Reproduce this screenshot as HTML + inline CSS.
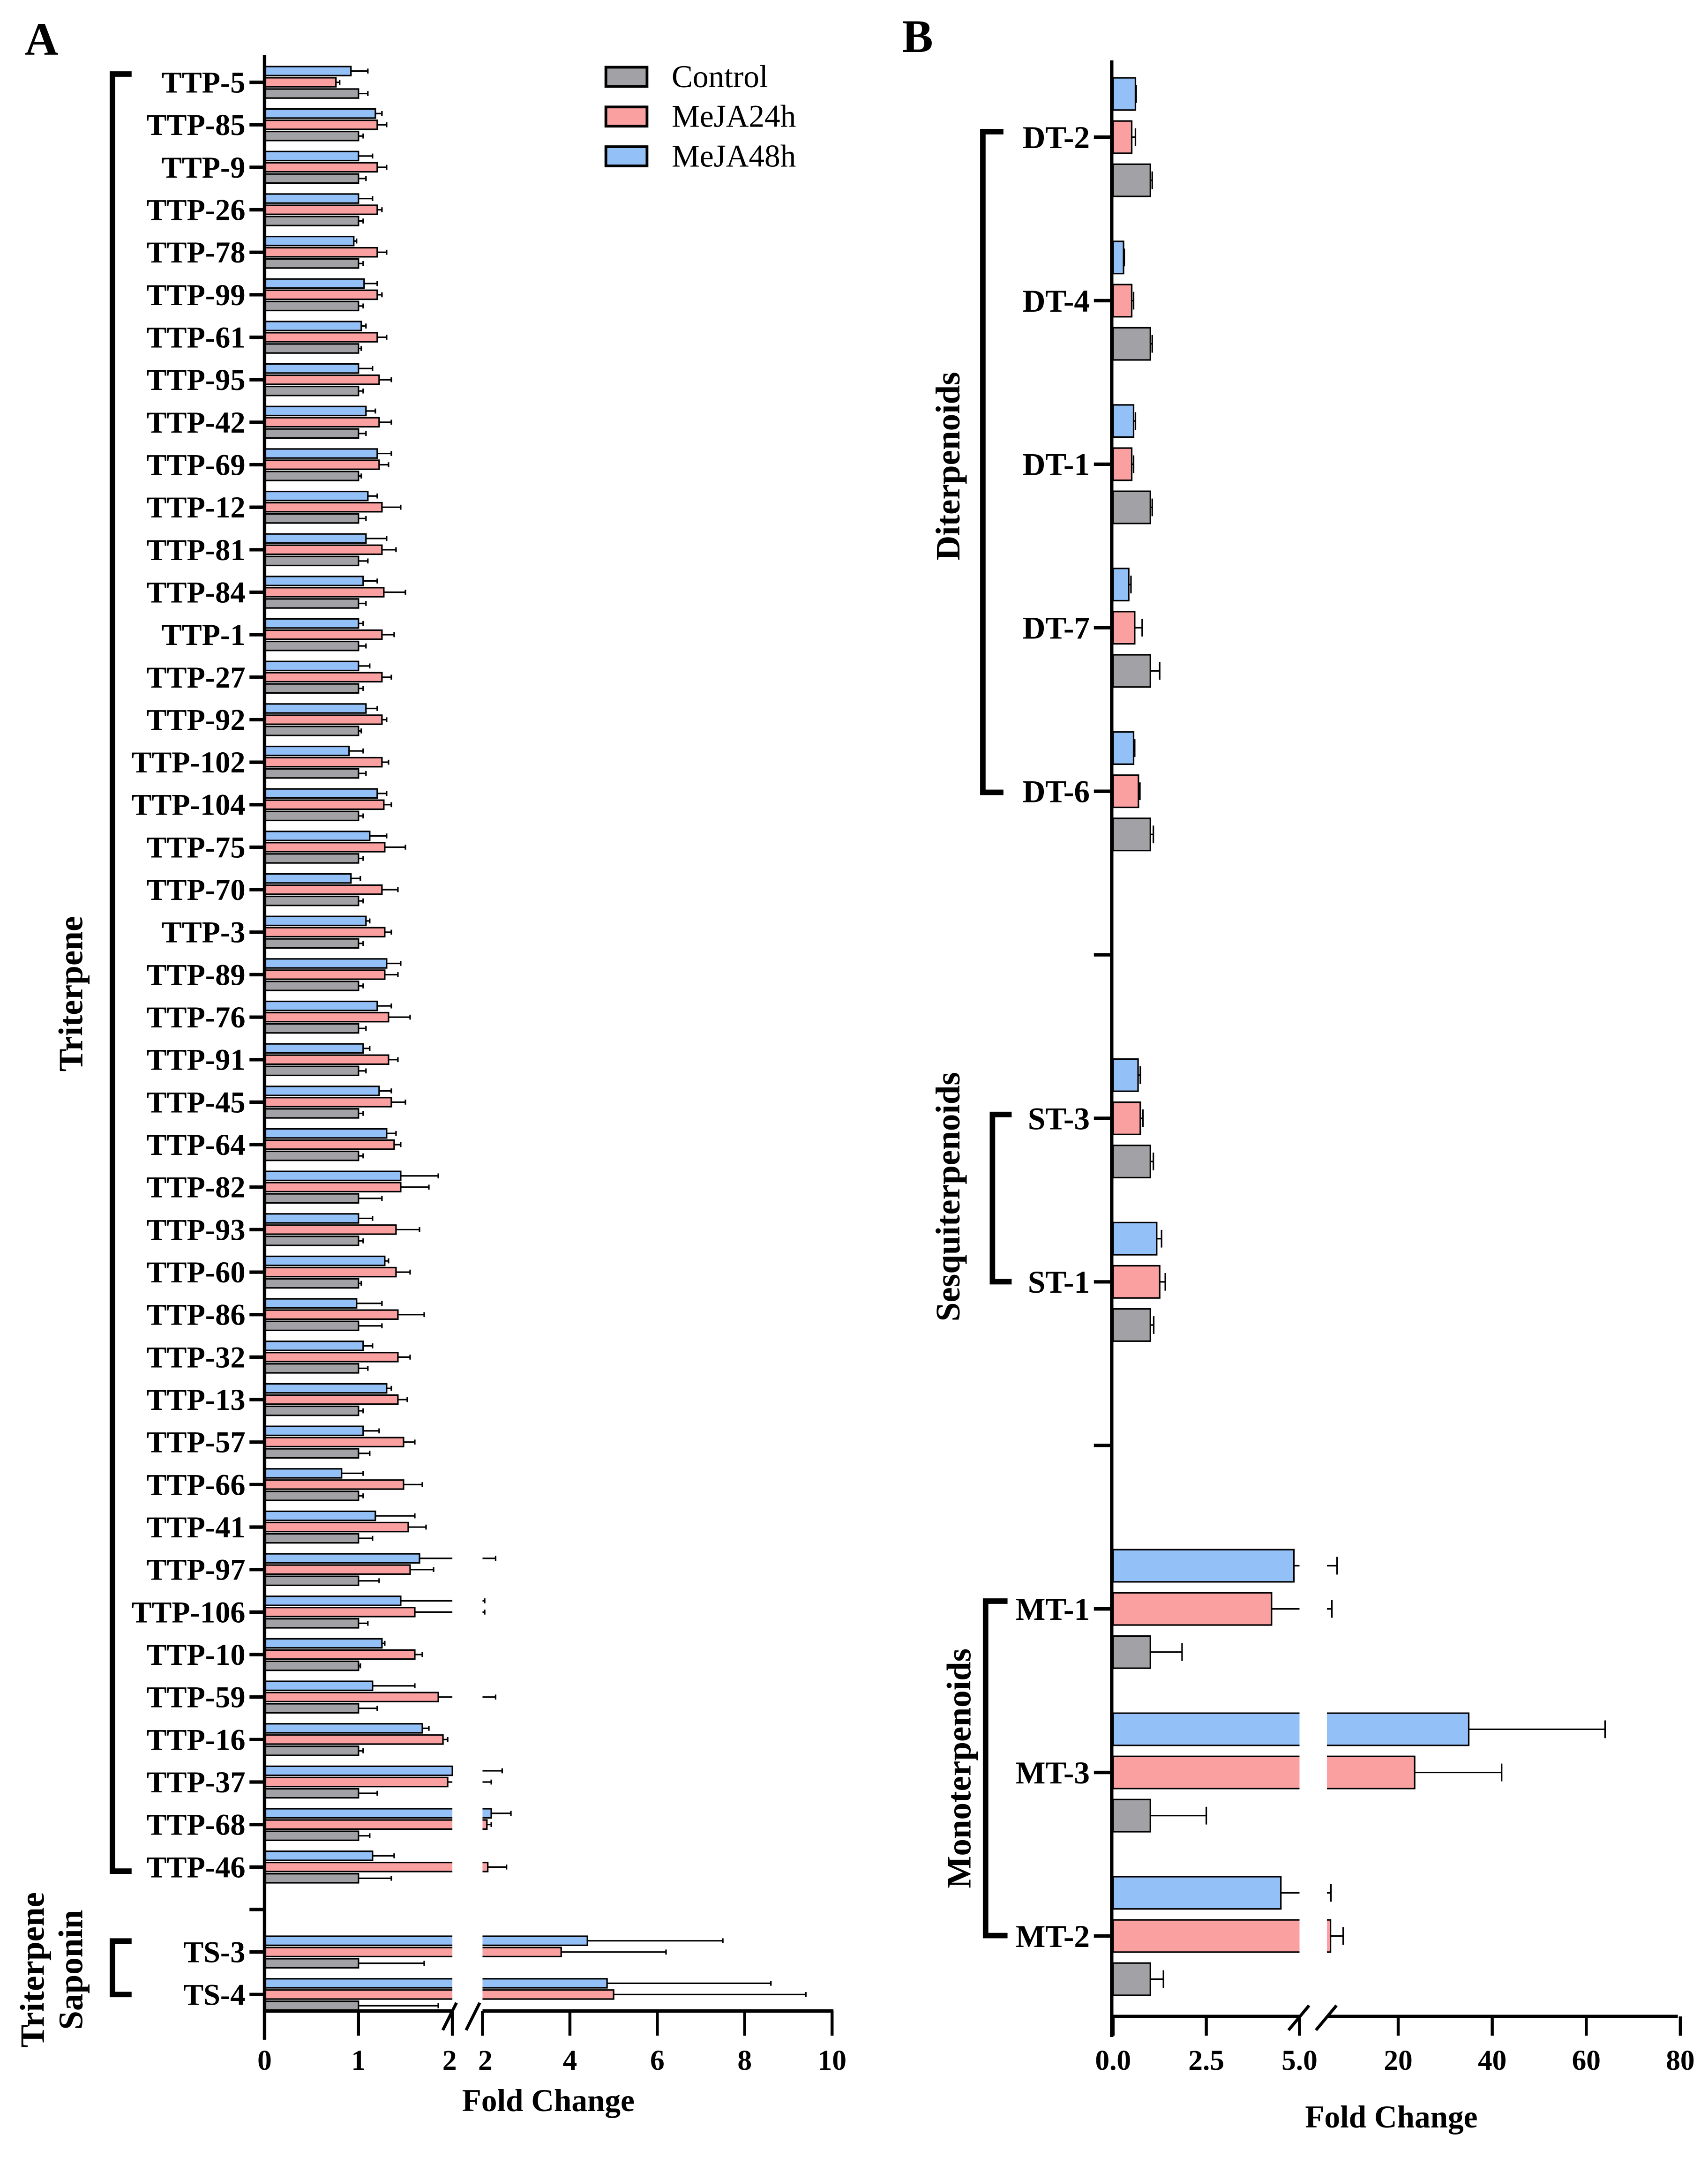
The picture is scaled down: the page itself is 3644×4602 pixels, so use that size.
<!DOCTYPE html>
<html><head><meta charset="utf-8"><style>
html,body{margin:0;padding:0;background:#fff}
svg{display:block}
text{font-family:"Liberation Serif",serif;fill:#000}
.b{font-weight:bold}
</style></head><body>
<svg id="chart" width="3644" height="4602" viewBox="0 0 1246 1573.5" xmlns="http://www.w3.org/2000/svg">
<g id="gA"></g>
<g id="gB"></g>
</svg>
<script>
// ---------- Panel A data ----------
const catsA = ["TTP-5","TTP-85","TTP-9","TTP-26","TTP-78","TTP-99","TTP-61","TTP-95","TTP-42","TTP-69","TTP-12","TTP-81","TTP-84","TTP-1","TTP-27","TTP-92","TTP-102","TTP-104","TTP-75","TTP-70","TTP-3","TTP-89","TTP-76","TTP-91","TTP-45","TTP-64","TTP-82","TTP-93","TTP-60","TTP-86","TTP-32","TTP-13","TTP-57","TTP-66","TTP-41","TTP-97","TTP-106","TTP-10","TTP-59","TTP-16","TTP-37","TTP-68","TTP-46","","TS-3","TS-4"];
const ctrlA = [1,1,1,1,1,1,1,1,1,1,1,1,1,1,1,1,1,1,1,1,1,1,1,1,1,1,1,1,1,1,1,1,1,1,1,1,1,1,1,1,1,1,1,null,1,1];
const ctrlErrA = [1.1,1.05,1.08,1.05,1.05,1.05,1.03,1.05,1.08,1.03,1.08,1.1,1.08,1.08,1.05,1.03,1.08,1.05,1.05,1.05,1.05,1.05,1.08,1.08,1.05,1.05,1.25,1.05,1.03,1.25,1.1,1.05,1.12,1.05,1.15,1.22,1.1,1.02,1.2,1.05,1.2,1.12,1.35,null,1.7,1.85];
const m24A = [0.76,1.2,1.2,1.2,1.2,1.2,1.2,1.22,1.22,1.22,1.25,1.25,1.27,1.25,1.25,1.25,1.25,1.27,1.28,1.25,1.28,1.28,1.32,1.32,1.35,1.38,1.45,1.4,1.4,1.42,1.42,1.42,1.48,1.48,1.53,1.55,1.6,1.6,1.85,1.9,1.95,2.1,2.12,null,3.8,5.0];
const m24ErrA = [0.8,1.3,1.3,1.25,1.3,1.25,1.3,1.35,1.35,1.32,1.45,1.4,1.5,1.38,1.35,1.3,1.32,1.35,1.5,1.42,1.35,1.42,1.55,1.42,1.5,1.45,1.75,1.65,1.55,1.7,1.55,1.52,1.6,1.68,1.72,1.8,2.05,1.68,2.3,1.95,2.2,2.2,2.55,null,6.2,9.4];
const m48A = [0.92,1.18,1.0,1.0,0.95,1.06,1.03,1.0,1.08,1.2,1.1,1.08,1.05,1.0,1.0,1.08,0.9,1.2,1.12,0.92,1.08,1.3,1.2,1.05,1.22,1.3,1.45,1.0,1.28,0.98,1.05,1.3,1.05,0.82,1.18,1.65,1.45,1.25,1.15,1.68,2.0,2.2,1.15,null,4.4,4.85];
const m48ErrA = [1.1,1.25,1.15,1.15,0.98,1.2,1.08,1.15,1.18,1.35,1.2,1.3,1.2,1.05,1.12,1.2,1.05,1.3,1.3,1.02,1.12,1.45,1.35,1.12,1.35,1.4,1.85,1.15,1.32,1.25,1.15,1.35,1.22,1.05,1.6,2.3,2.05,1.28,1.6,1.75,2.45,2.65,1.38,null,7.5,8.6];
const ticksA1 = ["0","1","2"];
const ticksA2 = ["2","4","6","8","10"];

// ---------- Panel B data ----------
const catsB = ["DT-2","DT-4","DT-1","DT-7","DT-6","","ST-3","ST-1","","MT-1","MT-3","MT-2"];
const ctrlB = [1,1,1,1,1,null,1,1,null,1,1,1];
const ctrlErrB = [1.05,1.05,1.05,1.25,1.08,null,1.08,1.09,null,1.85,2.5,1.35];
const m24B = [0.5,0.5,0.5,0.58,0.68,null,0.73,1.25,null,4.25,23.5,5.6];
const m24ErrB = [0.6,0.55,0.55,0.78,0.72,null,0.8,1.4,null,5.9,42,8.3];
const m48B = [0.6,0.28,0.55,0.42,0.55,null,0.67,1.17,null,4.85,35,4.5];
const m48ErrB = [0.62,0.3,0.6,0.48,0.58,null,0.73,1.3,null,7.0,64,5.7];
const ticksB1 = ["0.0","2.5","5.0"];
const ticksB2 = ["20","40","60","80"];

const NS="http://www.w3.org/2000/svg";
const COL={ctrl:"#a2a2a6",m24:"#fba0a0",m48:"#94c0f8"};
function mk(p,tag,attrs,txt){const e=document.createElementNS(NS,tag);for(const k in attrs)e.setAttribute(k,attrs[k]);if(txt!==undefined)e.textContent=txt;p.appendChild(e);return e;}

// axis functions (broken axis)
function scaleA(v){ // returns {left, right}
  if(v<=2) return {seg:0,x:193+v*(330-193)/2};
  return {seg:1,x:352+(v-2)*(607-352)/8};
}
const A_BREAK_L=330, A_BREAK_R=352, A_X0=193;
function scaleB(v){
  if(v<=5) return {seg:0,x:812+v*27.2};
  return {seg:1,x:1020+(v-20)*3.43};
}
const B_BREAK_L=948, B_BREAK_R=968, B_X0=812;

function drawBar(g,scale,x0,bl,br,y,h,v,err,fill,name){
  const s=scale(v);
  if(s.seg===0){
    const r=mk(g,"rect",{x:x0,y:y-h/2,width:Math.max(0,s.x-x0),height:h,fill:fill,stroke:"#000","stroke-width":1.1});
    
    
  } else {
    const r1=mk(g,"rect",{x:x0,y:y-h/2,width:bl-x0,height:h,fill:fill,stroke:"none"});
    
    
    mk(g,"path",{d:`M${bl},${y-h/2}H${x0}V${y+h/2}H${bl}`,fill:"none",stroke:"#000","stroke-width":1.1});
    const r2=mk(g,"rect",{x:br,y:y-h/2,width:Math.max(0,s.x-br),height:h,fill:fill,stroke:"none"});
    
    
    mk(g,"path",{d:`M${br},${y-h/2}H${s.x}V${y+h/2}H${br}`,fill:"none",stroke:"#000","stroke-width":1.1});
  }
  const e=scale(err), cap=h*0.55;
  let d="";
  if(s.seg===0&&e.seg===0){ d=`M${s.x},${y}H${e.x}`; }
  else if(s.seg===0&&e.seg===1){ d=`M${s.x},${y}H${bl}M${br},${y}H${e.x}`; }
  else { d=`M${s.x},${y}H${e.x}`; }
  d+=`M${e.x},${y-cap/2}V${y+cap/2}`;
  const eb=mk(g,"path",{d:d,fill:"none",stroke:"#000","stroke-width":1.1});
  
  
}

// ---------- Panel A ----------
(function(){
  const g=document.getElementById("gA");
  const t=mk(g,"text",{x:18,y:40,class:"b","font-size":34},"A");
   
  const y0=60, dy=31, h=6.6;
  catsA.forEach((c,i)=>{
    const y=y0+i*dy;
    mk(g,"line",{x1:182,y1:y,x2:193,y2:y,stroke:"#000","stroke-width":2.5});
    if(c){
      const l=mk(g,"text",{x:179,y:y+7.5,"text-anchor":"end",class:"b","font-size":22},c);
       
    }
    if(ctrlA[i]==null) return;
    drawBar(g,scaleA,A_X0,A_BREAK_L,A_BREAK_R,y-8.2,h,m48A[i],m48ErrA[i],COL.m48,"bar-meja48h");
    drawBar(g,scaleA,A_X0,A_BREAK_L,A_BREAK_R,y,h,m24A[i],m24ErrA[i],COL.m24,"bar-meja24h");
    drawBar(g,scaleA,A_X0,A_BREAK_L,A_BREAK_R,y+8.2,h,ctrlA[i],ctrlErrA[i],COL.ctrl,"bar-control");
  });
  // axes
  const ya=1467;
  mk(g,"line",{x1:193,y1:40,x2:193,y2:1488,stroke:"#000","stroke-width":2.5});
  mk(g,"line",{x1:192,y1:ya,x2:330,y2:ya,stroke:"#000","stroke-width":2.5});
  mk(g,"line",{x1:352,y1:ya,x2:608,y2:ya,stroke:"#000","stroke-width":2.5});
  mk(g,"path",{d:`M323,1481L333,1461M340,1481L350,1461`,stroke:"#000","stroke-width":2.2,fill:"none"});
  [0,1,2].forEach((v,i)=>{const x=scaleA(v).x;mk(g,"line",{x1:x,y1:ya,x2:x,y2:ya+18,stroke:"#000","stroke-width":2.2});
    const tl=mk(g,"text",{x:x-(i==2?2:0),y:1510,"text-anchor":"middle",class:"b","font-size":21},ticksA1[i]);});
  [2,4,6,8,10].forEach((v,i)=>{const x=(v==2)?352:scaleA(v+0.0001).x;mk(g,"line",{x1:x,y1:ya,x2:x,y2:ya+18,stroke:"#000","stroke-width":2.2});
    const tl=mk(g,"text",{x:x+(i==0?2:0),y:1510,"text-anchor":"middle",class:"b","font-size":21},ticksA2[i]);});
  const xt=mk(g,"text",{x:400,y:1540,"text-anchor":"middle",class:"b","font-size":23},"Fold Change");
   
  // brackets
  mk(g,"path",{d:"M96,54H82V1365H96",fill:"none",stroke:"#000","stroke-width":4});
  mk(g,"path",{d:"M96,1416H82V1455H96",fill:"none",stroke:"#000","stroke-width":4});
  const g1=mk(g,"text",{x:0,y:0,class:"b","font-size":25,"text-anchor":"middle",transform:"translate(60,725) rotate(-90)"},"Triterpene");
   
  const g2=mk(g,"text",{x:0,y:0,class:"b","font-size":25,"text-anchor":"middle",transform:"translate(32,1437) rotate(-90)"},"Triterpene");
   
  mk(g,"text",{x:0,y:0,class:"b","font-size":25,"text-anchor":"middle",transform:"translate(60,1437) rotate(-90)"},"Saponin");
  // legend
  const leg=[["Control",COL.ctrl,49],["MeJA24h",COL.m24,78],["MeJA48h",COL.m48,107]];
  leg.forEach(l=>{
    const r=mk(g,"rect",{x:442,y:l[2],width:30,height:14,fill:l[1],stroke:"#000","stroke-width":2});
     
    const t=mk(g,"text",{x:490,y:l[2]+14.5,"font-size":23},l[0]);
     
  });
})();

// ---------- Panel B ----------
(function(){
  const g=document.getElementById("gB");
  const t=mk(g,"text",{x:658,y:38,class:"b","font-size":34},"B");
   
  const y0=100, dy=119.3, h=23.5;
  catsB.forEach((c,i)=>{
    const y=y0+i*dy;
    mk(g,"line",{x1:798,y1:y,x2:812,y2:y,stroke:"#000","stroke-width":2.5});
    if(c){
      const l=mk(g,"text",{x:795,y:y+8,"text-anchor":"end",class:"b","font-size":23},c);
       
    }
    if(ctrlB[i]==null) return;
    drawBar(g,scaleB,B_X0,B_BREAK_L,B_BREAK_R,y-31.5,h,m48B[i],m48ErrB[i],COL.m48,"bar-meja48h");
    drawBar(g,scaleB,B_X0,B_BREAK_L,B_BREAK_R,y,h,m24B[i],m24ErrB[i],COL.m24,"bar-meja24h");
    drawBar(g,scaleB,B_X0,B_BREAK_L,B_BREAK_R,y+31.5,h,ctrlB[i],ctrlErrB[i],COL.ctrl,"bar-control");
  });
  const ya=1471;
  mk(g,"line",{x1:811,y1:44,x2:811,y2:1486,stroke:"#000","stroke-width":2.5});
  mk(g,"line",{x1:810,y1:ya,x2:948,y2:ya,stroke:"#000","stroke-width":2.5});
  mk(g,"line",{x1:968,y1:ya,x2:1224,y2:ya,stroke:"#000","stroke-width":2.5});
  mk(g,"path",{d:"M940,1481L955,1463M960,1481L975,1463",stroke:"#000","stroke-width":2.2,fill:"none"});
  [0,2.5,5].forEach((v,i)=>{const x=scaleB(v).x;mk(g,"line",{x1:x,y1:ya,x2:x,y2:ya+14,stroke:"#000","stroke-width":2.2});
    const tl=mk(g,"text",{x:x,y:1510,"text-anchor":"middle",class:"b","font-size":21},ticksB1[i]);});
  [20,40,60,80].forEach((v,i)=>{const x=scaleB(v).x;mk(g,"line",{x1:x,y1:ya,x2:x,y2:ya+14,stroke:"#000","stroke-width":2.2});
    const tl=mk(g,"text",{x:x,y:1510,"text-anchor":"middle",class:"b","font-size":21},ticksB2[i]);});
  const xt=mk(g,"text",{x:1015,y:1552,"text-anchor":"middle",class:"b","font-size":23},"Fold Change");
   
  mk(g,"path",{d:"M732,96H717V578H732",fill:"none",stroke:"#000","stroke-width":4});
  mk(g,"path",{d:"M738,813H724V935H738",fill:"none",stroke:"#000","stroke-width":4});
  mk(g,"path",{d:"M735,1168H719V1412H735",fill:"none",stroke:"#000","stroke-width":4});
  [["Diterpenoids",700,340],["Sesquiterpenoids",700,873],["Monoterpenoids",708,1290]].forEach(a=>{
    const t=mk(g,"text",{x:0,y:0,class:"b","font-size":25,"text-anchor":"middle",transform:`translate(${a[1]},${a[2]}) rotate(-90)`},a[0]);
     
  });
})();
</script>
</body></html>
